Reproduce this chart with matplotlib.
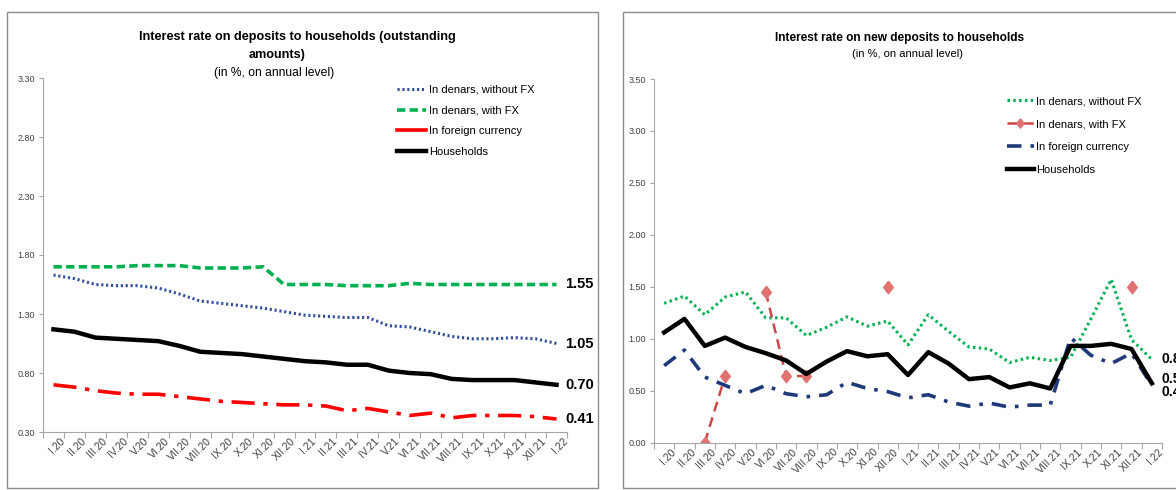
import numpy as np
import matplotlib
matplotlib.use("Agg")
import matplotlib.pyplot as plt
import matplotlib.transforms as mtransforms
from matplotlib import font_manager
from matplotlib.patches import Rectangle
from matplotlib.lines import Line2D

nan = np.nan

months = ["I.20", "II.20", "III.20", "IV.20", "V.20", "VI.20", "VII.20", "VIII.20",
          "IX.20", "X.20", "XI.20", "XII.20", "I.21", "II.21", "III.21", "IV.21",
          "V.21", "VI.21", "VII.21", "VIII.21", "IX.21", "X.21", "XI.21", "XII.21", "I.22"]

# left chart: outstanding amounts
out_without_fx = [1.63, 1.60, 1.55, 1.54, 1.54, 1.52, 1.47, 1.41, 1.39, 1.37, 1.35, 1.32, 1.29,
                  1.28, 1.27, 1.27, 1.20, 1.19, 1.15, 1.11, 1.09, 1.09, 1.10, 1.09, 1.05]
out_with_fx = [1.70, 1.70, 1.70, 1.70, 1.71, 1.71, 1.71, 1.69, 1.69, 1.69, 1.70, 1.55, 1.55,
               1.55, 1.54, 1.54, 1.54, 1.56, 1.55, 1.55, 1.55, 1.55, 1.55, 1.55, 1.55]
out_foreign = [0.70, 0.68, 0.65, 0.63, 0.62, 0.62, 0.60, 0.58, 0.56, 0.55, 0.54, 0.53, 0.53,
               0.52, 0.48, 0.50, 0.47, 0.44, 0.46, 0.42, 0.44, 0.44, 0.44, 0.43, 0.41]
out_households = [1.17, 1.15, 1.10, 1.09, 1.08, 1.07, 1.03, 0.98, 0.97, 0.96, 0.94, 0.92, 0.90,
                  0.89, 0.87, 0.87, 0.82, 0.80, 0.79, 0.75, 0.74, 0.74, 0.74, 0.72, 0.70]
out_end_labels = ["1.55", "1.05", "0.70", "0.41"]

# right chart: new deposits
new_without_fx = [1.34, 1.41, 1.23, 1.40, 1.45, 1.20, 1.20, 1.03, 1.11, 1.21, 1.12, 1.17, 0.94,
                  1.23, 1.07, 0.92, 0.90, 0.77, 0.82, 0.79, 0.82, 1.19, 1.57, 0.99, 0.80]
new_with_fx = [nan, nan, 0.00, 0.64, nan, 1.45, 0.64, 0.64, nan, nan, nan, 1.50, nan,
               nan, nan, nan, nan, nan, nan, nan, nan, nan, nan, 1.50, nan]
new_foreign = [0.74, 0.89, 0.63, 0.55, 0.47, 0.55, 0.47, 0.44, 0.46, 0.58, 0.52, 0.49, 0.43,
               0.46, 0.39, 0.35, 0.38, 0.34, 0.36, 0.36, 1.01, 0.84, 0.76, 0.86, 0.55]
new_households = [1.06, 1.19, 0.93, 1.01, 0.92, 0.86, 0.79, 0.66, 0.78, 0.88, 0.83, 0.85, 0.65,
                  0.87, 0.76, 0.61, 0.63, 0.53, 0.57, 0.52, 0.93, 0.93, 0.95, 0.90, 0.57]
new_end_labels = ["0.80", "0.57", "0.45"]

names = {f.name for f in font_manager.fontManager.ttflist}
FONT = "Liberation Sans Narrow" if "Liberation Sans Narrow" in names else "Liberation Sans"
plt.rcParams["font.family"] = [FONT, "DejaVu Sans"]

W, H = 1176, 490
fig = plt.figure(figsize=(W / 100, H / 100), dpi=100)

# chart frames
fig.add_artist(Rectangle((7 / W, 1 - 488 / H), 591 / W, 476 / H, transform=fig.transFigure,
                         fill=False, ec="#8c8c8c", lw=1.0))
fig.add_artist(Rectangle((623 / W, 1 - 488 / H), 600 / W, 476 / H, transform=fig.transFigure,
                         fill=False, ec="#8c8c8c", lw=1.0))

ax1 = fig.add_axes([43 / W, 1 - 432 / H, 524 / W, 354 / H])
ax2 = fig.add_axes([654 / W, 1 - 442.5 / H, 508 / W, 363.5 / H])

x = np.arange(len(months))
grey = "#a6a6a6"


def style_axes(ax, ymin, ymax):
    ax.set_xlim(-0.5, 24.5)
    ax.set_ylim(ymin, ymax)
    ax.spines["top"].set_visible(False)
    ax.spines["right"].set_visible(False)
    ax.spines["left"].set_color(grey)
    ax.spines["bottom"].set_color(grey)
    ax.set_xticks(np.arange(-0.5, 25, 1))
    ax.set_xticklabels([])
    ax.set_xticks(x, minor=True)
    ax.set_xticklabels(months, minor=True, rotation=45, ha="right", va="top",
                       rotation_mode="anchor", fontsize=7.5, color="#404040")
    ax.tick_params(axis="x", which="minor", length=0, pad=3)
    ax.tick_params(axis="x", which="major", length=4, color=grey)
    ax.tick_params(axis="y", length=3, color=grey, labelsize=6.5, labelcolor="#404040", pad=3)
    ax.set_yticks(np.arange(ymin, ymax + 0.01, 0.5))
    ax.yaxis.set_major_formatter(matplotlib.ticker.FormatStrFormatter("%.2f"))
    shift = mtransforms.ScaledTranslation(6 / 100, 0, fig.dpi_scale_trans)
    for lbl in ax.get_xticklabels(minor=True):
        lbl.set_transform(lbl.get_transform() + shift)


style_axes(ax1, 0.30, 3.30)
style_axes(ax2, 0.00, 3.50)

# ---- left chart
l1, = ax1.plot(x, out_without_fx, color="#2f4f9a", lw=2.2, dashes=(0.7, 0.9),
               label="In denars, without FX")
l2, = ax1.plot(x, out_with_fx, color="#00b050", lw=2.6, dashes=(2.3, 1.2),
               label="In denars, with FX")
l3, = ax1.plot(x, out_foreign, color="#ff0000", lw=2.6, dashes=(6.4, 2.4, 1.2, 2.4),
               label="In foreign currency")
l4, = ax1.plot(x, out_households, color="black", lw=3.2, label="Households")

for val, txt in zip([out_with_fx[-1], out_without_fx[-1], out_households[-1], out_foreign[-1]],
                    out_end_labels):
    ax1.text(24.4, val, txt, fontsize=10.5, fontweight="bold", va="center", ha="left",
             clip_on=False)

leg_handles = [Line2D([], [], color="#2f4f9a", lw=2.2, dashes=(0.7, 0.9)),
               Line2D([], [], color="#00b050", lw=2.6, dashes=(2.3, 1.2)),
               Line2D([], [], color="#ff0000", lw=2.6),
               Line2D([], [], color="black", lw=3.2)]
fig.legend(leg_handles, [l1.get_label(), l2.get_label(), l3.get_label(), l4.get_label()],
           loc="upper left", bbox_to_anchor=(397 / W, 1 - 85 / H), bbox_transform=fig.transFigure,
           frameon=False, fontsize=8, handlelength=2.6, handletextpad=0.25,
           labelspacing=0.95, borderpad=0, borderaxespad=0)

fig.text(297 / W, 1 - 37 / H, "Interest rate on deposits to households (outstanding",
         ha="center", va="center", fontsize=9.1, fontweight="bold")
fig.text(277 / W, 1 - 55 / H, "amounts)", ha="center", va="center", fontsize=9.1,
         fontweight="bold")
fig.text(274 / W, 1 - 73 / H, "(in %, on annual level)", ha="center", va="center", fontsize=8.7)

# ---- right chart
diamond = [(0, 1), (0.78, 0), (0, -1), (-0.78, 0), (0, 1)]
r1, = ax2.plot(x, new_without_fx, color="#00b050", lw=2.2, dashes=(0.8, 1.1),
               label="In denars, without FX")
r2, = ax2.plot(x, new_with_fx, color="#d04545", lw=1.8, dashes=(4, 2.5), marker=diamond,
               markersize=9, markerfacecolor="#e07272", markeredgecolor="#e07272",
               label="In denars, with FX")
r3, = ax2.plot(x, new_foreign, color="#1f3a7a", lw=2.6, dashes=(4, 2.5, 1, 2.5),
               label="In foreign currency")
r4, = ax2.plot(x, new_households, color="black", lw=3.2, label="Households")

for val, off, txt in zip([new_without_fx[-1], new_households[-1], new_foreign[-1]],
                         [0, 3, -5], new_end_labels):
    ax2.annotate(txt, (24.5, val), xytext=(0, off), textcoords="offset points",
                 fontsize=10, fontweight="bold", va="center", ha="left",
                 annotation_clip=False)

fig.legend([r1, r2, r3, r4], [r1.get_label(), r2.get_label(), r3.get_label(), r4.get_label()],
           loc="upper left", bbox_to_anchor=(1007 / W, 1 - 96 / H), bbox_transform=fig.transFigure,
           frameon=False, fontsize=8, handlelength=2.4, handletextpad=0.25, numpoints=1,
           markerscale=0.75, labelspacing=1.18, borderpad=0, borderaxespad=0)

fig.text(900 / W, 1 - 38 / H, "Interest rate on new deposits to households",
         ha="center", va="center", fontsize=8.6, fontweight="bold")
fig.text(908 / W, 1 - 54 / H, "(in %, on annual level)", ha="center", va="center", fontsize=8.0)

fig.savefig("out.png", dpi=100)
